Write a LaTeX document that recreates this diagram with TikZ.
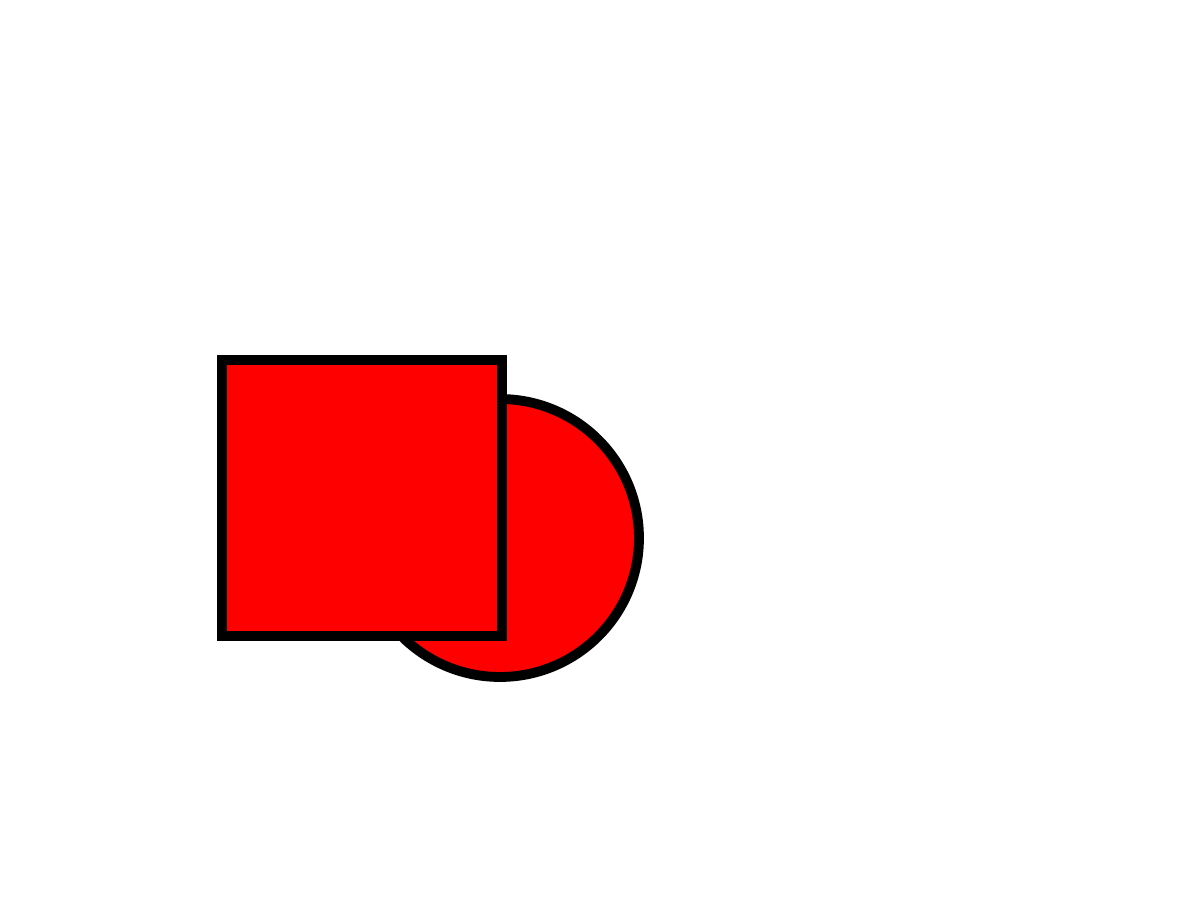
\documentclass[tikz,border=0pt]{standalone}
\usepackage{tikz}
\usetikzlibrary{shapes.geometric, positioning}
\definecolor{shapered}{HTML}{FF0000}

\begin{document}
\begin{tikzpicture}[x=0.02cm, y=0.02cm,
	redshape/.style={draw=black, fill=shapered, line width=5.6pt, inner sep=0pt}]
				\useasboundingbox (0,0) rectangle (1200,900);
				\node[redshape, circle, minimum size=5.56cm] (disc) at (500,362) {};
				\node[redshape, rectangle, minimum width=5.6cm, minimum height=5.52cm] (block) at (362,402) {};
			\end{tikzpicture}
\end{document}
